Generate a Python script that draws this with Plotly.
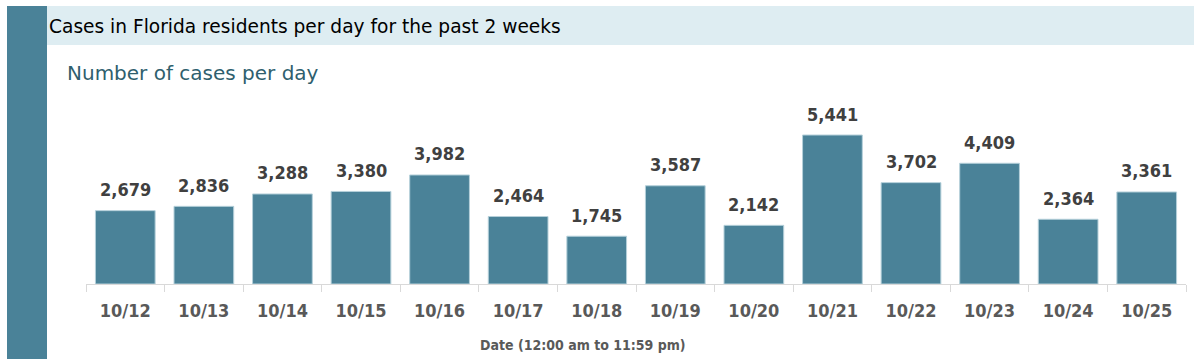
import plotly.graph_objects as go

dates = ["10/12", "10/13", "10/14", "10/15", "10/16", "10/17", "10/18",
         "10/19", "10/20", "10/21", "10/22", "10/23", "10/24", "10/25"]
cases = [2679, 2836, 3288, 3380, 3982, 2464, 1745, 3587, 2142, 5441, 3702, 4409, 2364, 3361]

title_text = "Cases in Florida residents per day for the past 2 weeks"
subtitle_text = "Number of cases per day"
xaxis_title = "Date (12:00 am to 11:59 pm)"

W, H = 1200, 359
BAR = "#4a8298"
COND = "Liberation Sans Narrow, DejaVu Sans Condensed, sans-serif"
WIDE = "DejaVu Sans, Liberation Sans, sans-serif"

def px(x):
    return x / W

def py(y):
    return (H - y) / H

fig = go.Figure()
fig.add_trace(go.Bar(
    x=dates, y=cases,
    marker=dict(color=BAR, line=dict(color="#b5d0da", width=1)),
    hoverinfo="x+y",
))

annotations = [
    dict(x=d, y=v, xref="x", yref="y", text=f"{v:,}", showarrow=False,
         yanchor="middle", yshift=21,
         font=dict(family=COND, size=18, color="#404040", weight="bold"))
    for d, v in zip(dates, cases)
]
annotations += [
    dict(text=title_text, xref="paper", yref="paper",
         x=px(47), y=py(26), xanchor="left", yanchor="middle",
         showarrow=False,
         font=dict(family=WIDE, size=18.6, color="#000000")),
    dict(text=subtitle_text, xref="paper", yref="paper",
         x=px(65), y=py(73), xanchor="left", yanchor="middle",
         showarrow=False,
         font=dict(family=WIDE, size=20, color="#2f5f6e")),
    dict(text=xaxis_title, xref="paper", yref="paper",
         x=px(583), y=py(345), xanchor="center", yanchor="middle",
         showarrow=False,
         font=dict(family=COND, size=14, color="#595959", weight="bold")),
]

fig.update_layout(
    width=W, height=H,
    margin=dict(l=0, r=0, t=0, b=0),
    paper_bgcolor="white", plot_bgcolor="white",
    bargap=0.24,
    showlegend=False,
    xaxis=dict(
        domain=[px(86), px(1186)],
        type="category",
        showline=True, linecolor="#d9d9d9", linewidth=1,
        ticks="outside", tickson="boundaries", ticklen=7, tickcolor="#d9d9d9",
        ticklabelstandoff=10,
        tickfont=dict(family=COND, size=18, color="#595959", weight="bold"),
        showgrid=False,
    ),
    yaxis=dict(
        domain=[py(284), py(100)],
        range=[0, 6720],
        visible=False, showgrid=False,
    ),
    shapes=[
        dict(type="rect", xref="paper", yref="paper",
             x0=px(7), x1=px(47), y0=0, y1=py(6),
             fillcolor=BAR, line=dict(width=0), layer="below"),
        dict(type="rect", xref="paper", yref="paper",
             x0=px(47), x1=px(1194), y0=py(45), y1=py(6),
             fillcolor="#deedf2", line=dict(width=0), layer="below"),
    ],
    annotations=annotations,
)

fig.write_html("out.html",
               config={"displayModeBar": False},
               post_script="document.body.style.margin='0';document.body.style.overflow='hidden';")
